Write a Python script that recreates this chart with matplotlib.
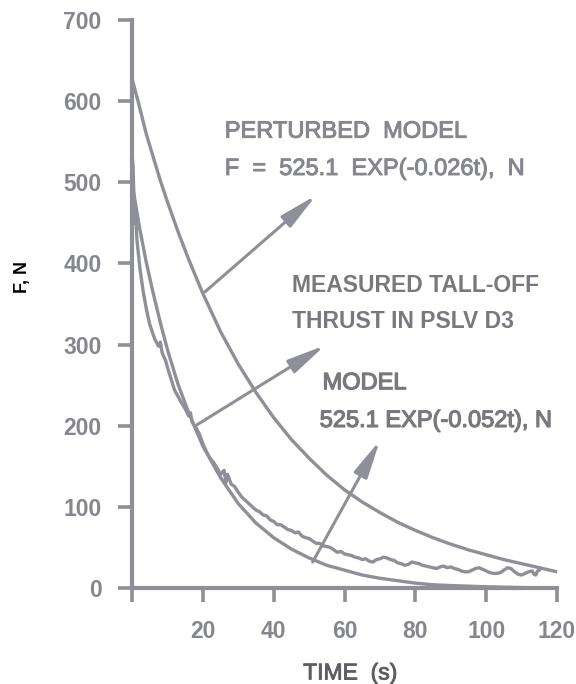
import numpy as np
import matplotlib.pyplot as plt
import matplotlib.patheffects as pe

# ---------------------------------------------------------------------------
# données (temps en s, poussée en N)
# ---------------------------------------------------------------------------
T_PERTURBED = [0, 2, 4, 6, 8, 10, 13, 16, 20, 25, 30, 35, 40, 45, 50, 55, 60,
               65, 70, 75, 80, 85, 90, 95, 100, 105, 110, 115, 120]
F_PERTURBED = [628, 595, 560, 531, 502, 476, 439, 405, 363, 316, 276, 241, 210,
               183, 160, 139, 121, 106, 93, 81, 71, 62, 54, 47, 41, 35, 30, 25, 20]

T_MODEL = [0, 2, 4, 6, 8, 10, 13, 16, 20, 25, 30, 35, 40, 45, 50, 55, 60, 65,
           70, 75, 80, 85, 90, 100, 110, 120]
F_MODEL = [500, 447, 402, 363, 327, 294, 251, 216, 175, 136, 104, 80, 62, 48,
           37, 28, 22, 16, 12, 9, 6, 4, 3, 1.5, 0.5, 0]

T_MEASURED = [0, 0.3, 0.6, 0.8, 1.0, 1.2, 1.4, 2.2, 3.1, 4, 5, 6, 6.5, 7.5, 8,
              8.5, 9.5, 10, 11, 12, 13, 14, 15, 16, 16.5, 17, 18, 19,
              20, 21, 22, 23, 24, 25, 26, 26.5, 27, 28, 29, 30, 31, 32, 33, 34,
              35, 36, 37, 38, 39, 40, 41, 42, 43, 44, 45, 46, 47, 48, 49, 50,
              51, 52, 53, 54, 55, 56, 57, 58, 59, 60, 61, 62, 63, 64, 65, 66,
              67, 68, 69, 70, 71, 72, 73, 74, 75, 76, 77, 78, 79, 80, 81, 82,
              83, 84, 85, 86, 87, 88, 89, 90, 91, 92, 93, 94, 95, 96, 97, 98,
              99, 100, 101, 102, 103, 104, 105, 106, 107, 108, 109, 110, 111,
              112, 113, 113.5, 114, 114.5, 115]
F_MEASURED = [535, 520, 470, 450, 470, 445, 429, 395, 367, 345, 325, 312, 306,
              298, 303, 290, 280, 272, 258, 244, 236, 228, 221, 212, 216, 204,
              198, 190, 178, 168, 160, 155, 148, 140, 145, 130,
              140, 128, 125, 118, 112, 108, 104, 100, 96, 94, 90, 89, 84, 82,
              78, 78, 75, 72, 71, 68, 69, 64, 62, 61, 58, 55, 55, 52, 51, 50,
              47, 44, 45, 42, 41, 40, 38, 37, 35, 36, 33, 32, 35, 36, 38, 37,
              35, 34, 31, 30, 28, 29, 32, 31, 30, 28, 27, 26, 25, 24, 26, 27,
              25, 26, 24, 23, 21, 20, 20, 22, 24, 25, 23, 21, 19, 18, 18, 19,
              22, 25, 24, 20, 17, 16, 18, 20, 21, 17, 16, 21, 22]

X_TICKS = [0, 20, 40, 60, 80, 100, 120]
X_TICK_LABELS = ["", "20", "40", "60", "80", "100", "120"]
Y_TICKS = [0, 100, 200, 300, 400, 500, 600, 700]

# flèches : (queue, pointe) en coordonnées des données
ARROW_PERTURBED = ((20.6, 365), (52.0, 484))
ARROW_MEASURED = ((18.3, 201), (54.5, 299))
ARROW_MODEL = ((51.0, 32), (70.0, 182))

GREY = "#8e8f98"
TEXT_GREY = "#85868e"
DARK_GREY = "#78797f"

plt.rcParams["font.family"] = ["Liberation Sans", "DejaVu Sans"]

fig = plt.figure(figsize=(5.76, 6.84), dpi=100)
ax = fig.add_axes([132 / 576, 1 - 588 / 684, 425 / 576, 568 / 684])

ax.plot(T_PERTURBED, F_PERTURBED, color=GREY, lw=2.4, solid_capstyle="round")
ax.plot(T_MODEL, F_MODEL, color=GREY, lw=2.4, solid_capstyle="round")
ax.plot(T_MEASURED, F_MEASURED, color=GREY, lw=2.4, solid_joinstyle="round")

for tail, tip in (ARROW_PERTURBED, ARROW_MEASURED, ARROW_MODEL):
    ax.annotate("", xy=tip, xytext=tail,
                arrowprops=dict(arrowstyle="-|>,head_length=2.3,head_width=0.45",
                                mutation_scale=10, color=GREY, lw=2.2,
                                shrinkA=0, shrinkB=0))

# textes (léger épaississement pour l'aspect scanné)
thin = [pe.withStroke(linewidth=0.7, foreground=TEXT_GREY)]
thick = [pe.withStroke(linewidth=0.9, foreground=DARK_GREY)]

ax.text(26.2, 555, "PERTURBED  MODEL", color=TEXT_GREY, fontsize=17,
        ha="left", va="baseline", path_effects=thin)
ax.text(26.2, 509, "F  =  525.1  EXP(-0.026t),  N", color=TEXT_GREY,
        fontsize=17, ha="left", va="baseline", path_effects=thin)
ax.text(45.1, 365, "MEASURED TALL-OFF", color=DARK_GREY, fontsize=16.5,
        fontweight="bold", ha="left", va="baseline")
ax.text(45.1, 320.5, "THRUST IN PSLV D3", color=DARK_GREY, fontsize=16.5,
        fontweight="bold", ha="left", va="baseline")
ax.text(53.8, 245, "MODEL", color=DARK_GREY, fontsize=17,
        ha="left", va="baseline", path_effects=thick)
ax.text(53.0, 198.5, "525.1 EXP(-0.052t), N", color=DARK_GREY, fontsize=17,
        ha="left", va="baseline", path_effects=thick)

ax.set_xlim(0, 120)
ax.set_ylim(0, 700)
ax.set_xticks(X_TICKS)
ax.set_xticklabels(X_TICK_LABELS)
ax.set_yticks(Y_TICKS)

for side in ("top", "right"):
    ax.spines[side].set_visible(False)
for side in ("left", "bottom"):
    ax.spines[side].set_color(GREY)
    ax.spines[side].set_linewidth(3.0)

ax.tick_params(axis="both", colors=GREY, width=2.6, length=10,
               labelsize=16.5, labelcolor=TEXT_GREY)
ax.tick_params(axis="y", pad=12)
ax.tick_params(axis="x", pad=13)
for lab in ax.get_xticklabels() + ax.get_yticklabels():
    lab.set_fontweight("bold")

fig.text(22 / 576, 1 - 277 / 684, "F, N", rotation=90, color="black",
         fontsize=13, fontweight="bold", ha="center", va="center")
fig.text(350 / 576, 1 - 673 / 684, "TIME  (s)", color="#5d5e64",
         fontsize=16.5, ha="center", va="center",
         path_effects=[pe.withStroke(linewidth=0.6, foreground="#5d5e64")])

fig.savefig("out.png", dpi=100)
